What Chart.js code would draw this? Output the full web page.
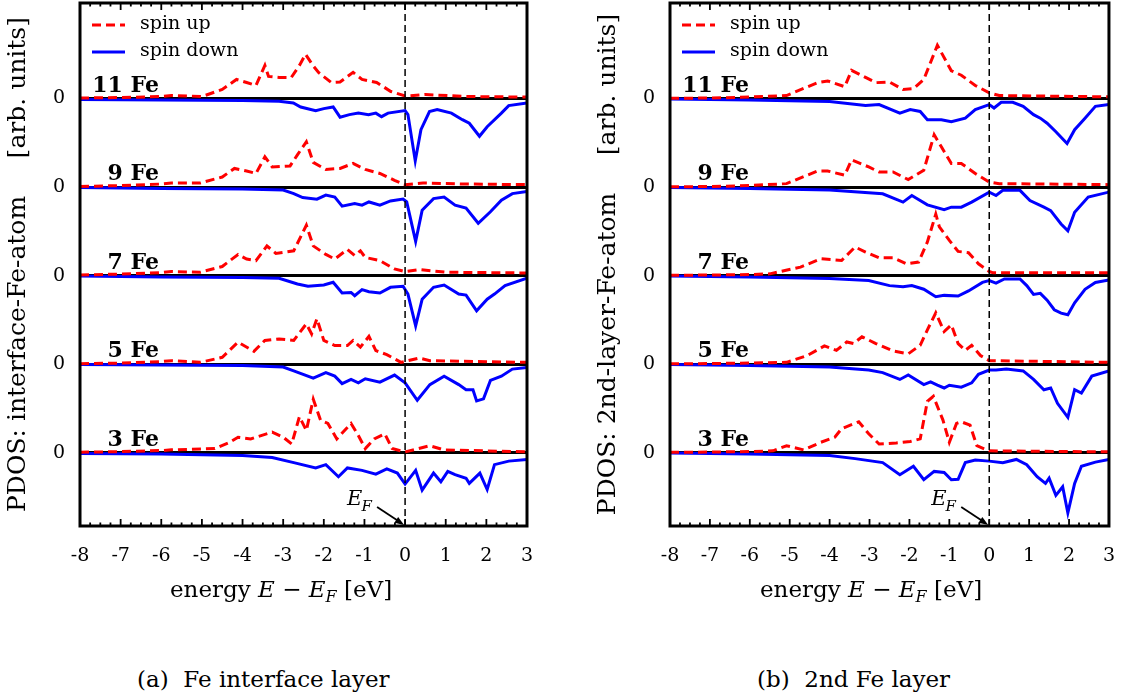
<!DOCTYPE html>
<html>
<head>
<meta charset="utf-8">
<script src="https://cdn.jsdelivr.net/npm/chart.js@4.4.1/dist/chart.umd.min.js"></script>
<style>
  body { margin: 0; background: #fff; width: 1126px; height: 696px; position: relative; overflow: hidden; }
  .panel { position: absolute; top: 0; height: 620px; }
  .caption { position: absolute; top: 664px; font: 23px "DejaVu Serif", serif; line-height: 30px; white-space: pre; color: #000; }
</style>
</head>
<body>
<div class="panel" style="left:0;width:563px"><canvas id="chartA" width="563" height="620"></canvas></div>
<div class="panel" style="left:590px;width:536px"><canvas id="chartB" width="536" height="620"></canvas></div>
<div class="caption" style="left:137px">(a)  Fe interface layer</div>
<div class="caption" style="left:757px">(b)  2nd Fe layer</div>
<script>
// systems stacked bottom to top, each shifted up by its offset
const systems = ["3 Fe", "5 Fe", "7 Fe", "9 Fe", "11 Fe"];
const offsets = [0, 88, 176, 264, 352];
const energyTicks = [-8, -7, -6, -5, -4, -3, -2, -1, 0, 1, 2, 3];

// (a) interface layer: [E - E_F (eV), PDOS]
const upA3 = [[-8,0.3],[-7,1],[-6,2],[-5.75,2.7],[-4.68,4],[-4.33,10],[-4.11,15.3],[-3.8,13.6],[-3.27,20.4],[-3.0,15.3],[-2.79,8.5],[-2.6,35.7],[-2.43,22],[-2.26,53],[-2.08,32],[-1.9,29],[-1.68,13.6],[-1.33,29],[-1.15,17],[-0.98,4],[-0.76,13.6],[-0.5,18.7],[-0.32,4],[0,0.7],[0.61,6.8],[0.96,2.7],[3,0.7]];
const downA3 = [[-8,-1],[-6,-1.5],[-4,-3],[-3.27,-5],[-2.74,-10],[-2.2,-15.3],[-1.95,-12],[-1.64,-24],[-1.42,-15.3],[-1.06,-17.7],[-0.72,-21.4],[-0.45,-16.3],[-0.19,-20.4],[0,-31.3],[0.26,-17.7],[0.42,-37.4],[0.7,-20.4],[0.88,-29],[1.05,-18.7],[1.23,-22],[1.5,-25.5],[1.58,-30.6],[1.84,-20.4],[2.02,-36.7],[2.2,-12],[2.55,-8.5],[3,-6.8]];
const upA5 = [[-8,0.3],[-7,1],[-6,2.5],[-5.75,3.4],[-5.04,1.7],[-4.5,6.7],[-4.11,21.8],[-3.72,12.7],[-3.45,23.5],[-3.1,25],[-2.74,23.5],[-2.43,40],[-2.3,30],[-2.17,45],[-2.0,23.5],[-1.73,18.4],[-1.42,18.4],[-1.28,23.5],[-1.1,16.8],[-0.89,27.5],[-0.72,13.4],[-0.45,9.4],[-0.1,1.7],[0.35,6],[0.61,3.4],[3,1.7]];
const downA5 = [[-8,-0.5],[-6,-1],[-4,-1.5],[-3,-3],[-2.74,-6.8],[-2.26,-14],[-1.95,-8.5],[-1.73,-12],[-1.55,-19.4],[-1.33,-15.3],[-1.15,-18.7],[-0.98,-14.6],[-0.62,-18],[-0.26,-10.9],[0,-18.7],[0.3,-36],[0.61,-20.4],[0.96,-12],[1.32,-20.4],[1.5,-25.5],[1.67,-25.5],[1.76,-36.7],[1.93,-34.6],[2.1,-16.3],[2.37,-12],[2.64,-5],[3,-3.4]];
const upA7 = [[-8,0.5],[-7,1.5],[-6,3],[-5.75,4],[-5.04,3.3],[-4.5,9],[-4.11,21],[-3.9,16.4],[-3.67,14.8],[-3.4,29.5],[-3.18,22],[-2.74,24.6],[-2.43,50],[-2.26,29.5],[-1.95,21],[-1.73,16.4],[-1.42,26],[-1.24,20],[-1.1,24.6],[-0.98,18],[-0.62,14.8],[-0.26,6.6],[0,4],[0.35,6],[1,3.3],[3,2.6]];
const downA7 = [[-8,-0.5],[-6,-1.5],[-4,-2],[-3.1,-2.7],[-2.65,-8.4],[-2.39,-10.7],[-2.0,-9.4],[-1.77,-6.7],[-1.55,-17.4],[-1.33,-16.8],[-1.24,-20],[-1.06,-14],[-0.89,-16],[-0.62,-17.4],[-0.36,-11.7],[-0.05,-10.7],[0.07,-18.4],[0.26,-50],[0.42,-23.5],[0.7,-11.7],[0.96,-9.4],[1.32,-18.4],[1.5,-19.4],[1.76,-35],[2.02,-23.5],[2.2,-18.4],[2.46,-10],[3,-2.7]];
const upA9 = [[-8,0.5],[-7,1.5],[-6,3],[-5.75,4],[-5.04,4],[-4.5,10],[-4.2,18.5],[-3.9,16],[-3.67,13.5],[-3.45,30],[-3.27,20],[-2.83,21],[-2.65,32],[-2.43,45],[-2.26,24.5],[-1.95,17.5],[-1.6,18.5],[-1.28,23.5],[-0.98,17.5],[-0.62,13.5],[-0.26,6.7],[0,2.4],[0.44,4],[1.5,3],[3,2.4]];
const downA9 = [[-8,-0.5],[-6,-1.5],[-4,-2],[-3,-3],[-2.74,-6.5],[-2.52,-10.5],[-2.17,-12],[-1.95,-8],[-1.73,-10],[-1.55,-19],[-1.24,-16.4],[-1.06,-18],[-0.89,-14.8],[-0.62,-18],[-0.36,-13.8],[-0.05,-12],[0.04,-14.8],[0.26,-54],[0.42,-23],[0.7,-11.5],[0.96,-10],[1.23,-18],[1.5,-21],[1.8,-36],[2.1,-24.6],[2.37,-13],[2.64,-6.5],[3,-4.3]];
const upA11 = [[-8,0.5],[-7,1],[-6,2],[-5.75,3],[-5.3,2.5],[-5.0,2],[-4.5,9],[-4.15,19],[-3.9,16],[-3.67,13],[-3.45,33],[-3.36,22],[-3.1,21],[-2.8,21],[-2.6,33],[-2.45,44],[-2.27,33],[-2.13,26],[-1.82,16],[-1.6,16.5],[-1.28,26],[-1.06,19],[-0.7,16],[-0.35,7],[0,2.5],[0.5,4],[1.5,2],[3,1.5]];
const downA11 = [[-8,-1],[-6,-1.5],[-4,-2],[-3.1,-2.7],[-2.75,-4.4],[-2.57,-8.4],[-2.2,-12],[-2.0,-10],[-1.77,-8.4],[-1.6,-18.5],[-1.37,-16],[-1.15,-14.5],[-0.9,-16],[-0.72,-14.5],[-0.58,-18],[-0.42,-14.5],[0,-12],[0.07,-16],[0.25,-62],[0.39,-31],[0.6,-13],[0.79,-11],[1.14,-14.5],[1.41,-21],[1.58,-24.6],[1.83,-37.5],[2.02,-28],[2.37,-14.5],[2.55,-7],[3,-4.4]];

// (b) 2nd layer
const upB3 = [[-8,0.3],[-7,0.5],[-6,1],[-5.42,1.7],[-5.08,6.8],[-4.65,2.7],[-4.22,10.2],[-3.87,15.3],[-3.7,23.8],[-3.27,30.6],[-3.02,18.7],[-2.76,8.5],[-2.33,9.5],[-1.98,11],[-1.73,13.6],[-1.55,51],[-1.4,56],[-1.16,32.3],[-1.0,10.2],[-0.82,29],[-0.7,30.6],[-0.48,27.2],[-0.31,6.8],[0,1.7],[3,0.7]];
const downB3 = [[-8,-0.5],[-6,-1.5],[-4,-3],[-3.36,-6],[-2.67,-10],[-2.24,-22],[-1.9,-13.6],[-1.64,-27],[-1.38,-18.7],[-1.13,-19.7],[-0.95,-27],[-0.78,-26.5],[-0.6,-10],[-0.35,-7.5],[0,-8.5],[0.34,-10],[0.68,-6.8],[0.94,-12],[1.2,-24],[1.41,-30.6],[1.5,-25.5],[1.67,-42.5],[1.84,-34],[1.97,-60],[2.14,-30.6],[2.31,-13.6],[2.66,-9.5],[3,-6.8]];
const upB5 = [[-8,0.3],[-7,0.5],[-6,1],[-5.08,1.7],[-4.56,8.5],[-4.13,18],[-3.83,13.6],[-3.57,22],[-3.4,20.4],[-3.19,27.2],[-2.84,20.4],[-2.41,13],[-2.03,10.2],[-1.73,18.7],[-1.55,34],[-1.34,51],[-1.13,32.3],[-0.95,39],[-0.78,20.4],[-0.6,13.6],[-0.44,18.7],[-0.22,8.5],[0,3.4],[3,1.7]];
const downB5 = [[-8,-0.5],[-6,-1.5],[-4,-3],[-3.02,-6],[-2.67,-8.5],[-2.24,-15.3],[-2.03,-10.9],[-1.64,-20.4],[-1.47,-17.7],[-1.3,-21],[-1.13,-23.8],[-1.0,-21],[-0.7,-23],[-0.44,-18.7],[-0.27,-10.2],[0,-6],[0.17,-6],[0.43,-5],[0.85,-6.8],[1.11,-15.3],[1.37,-25.5],[1.54,-23.8],[1.71,-39],[1.97,-53],[2.14,-25.5],[2.31,-28.9],[2.57,-12],[3,-6.8]];
const upB7 = [[-8,0.3],[-7,0.5],[-6,1],[-5.5,1.7],[-4.73,8.4],[-4.22,16.7],[-3.7,15],[-3.36,28.4],[-3.1,23.4],[-2.76,17.7],[-2.41,17.7],[-2.07,11.7],[-1.77,13.4],[-1.55,33.4],[-1.34,61],[-1.25,48.4],[-1.0,35],[-0.78,24],[-0.52,22.7],[-0.27,11.7],[0,4],[0.1,2.7],[3,2.7]];
const downB7 = [[-8,-0.5],[-6,-1.5],[-4,-3],[-3.02,-5],[-2.5,-10],[-2.16,-11],[-1.94,-10],[-1.64,-13.6],[-1.34,-21],[-1.13,-19.7],[-0.78,-20.4],[-0.52,-15.3],[-0.17,-6.8],[0,-5],[0.17,-7.5],[0.38,-3.4],[0.77,-3.4],[0.94,-10],[1.11,-18.7],[1.28,-17.7],[1.45,-24.5],[1.63,-34],[1.8,-37.4],[1.97,-39],[2.14,-27],[2.4,-13.6],[2.66,-6.8],[3,-4.4]];
const upB9 = [[-8,0.3],[-7,0.5],[-6,1.5],[-5.08,3.4],[-4.3,16],[-4.05,16],[-3.62,11.8],[-3.45,27],[-3.02,20],[-2.76,15],[-2.41,15],[-2.03,7.4],[-1.64,16.8],[-1.38,52],[-1.2,40],[-0.95,23.5],[-0.7,23.5],[-0.35,13.5],[0,5],[0.25,3.4],[3,2.4]];
const downB9 = [[-8,-0.5],[-6,-1.5],[-4,-3],[-2.67,-6.7],[-2.16,-15],[-1.94,-8.4],[-1.55,-17.7],[-1.13,-22.4],[-0.95,-20],[-0.7,-20],[-0.44,-15],[0,-5],[0.17,-8.4],[0.34,-3.3],[0.77,-3.3],[1.02,-13.4],[1.37,-20],[1.54,-23.4],[1.8,-36.7],[1.97,-43.4],[2.14,-25],[2.48,-10],[3,-5]];
const upB11 = [[-8,0.3],[-7,0.5],[-6,1.5],[-5.08,3],[-4.3,15.8],[-4.05,17.5],[-3.62,11.8],[-3.45,28],[-3.1,21],[-2.84,15.8],[-2.5,16.5],[-2.16,9],[-1.9,9.8],[-1.64,19],[-1.3,53],[-0.95,27.6],[-0.7,23.2],[-0.35,13],[0,5.7],[0.25,3],[3,1.7]];
const downB11 = [[-8,-0.5],[-6,-1.5],[-4,-3],[-3.1,-7],[-2.76,-6],[-2.24,-14.5],[-1.98,-11],[-1.73,-12.8],[-1.55,-21],[-1.2,-21],[-0.95,-23],[-0.6,-19.5],[-0.35,-11],[0,-6],[0.12,-9.4],[0.3,-3.7],[0.59,-3.7],[0.85,-7.7],[1.11,-16],[1.28,-19.5],[1.45,-24.5],[1.67,-33],[1.95,-44.7],[2.14,-31],[2.4,-19.5],[2.66,-7.7],[3,-6]];

const SERIF = '"DejaVu Serif", serif';
Chart.defaults.color = "#000";
Chart.defaults.font.family = SERIF;

// frame, inward ticks, E_F line, legend and labels
const decorPlugin = {
  id: "decor",
  afterDatasetsDraw(chart) {
    const ctx = chart.ctx;
    const a = chart.chartArea;
    const xs = chart.scales.x;
    const ys = chart.scales.y;
    ctx.save();

    // ticks on bottom and top borders
    ctx.strokeStyle = "#000";
    ctx.lineWidth = 1.8;
    for (let e = -8; e <= 3.001; e += 0.25) {
      const px = xs.getPixelForValue(e);
      const len = Math.abs(e - Math.round(e)) < 0.01 ? 7 : 3.5;
      ctx.beginPath();
      ctx.moveTo(px, a.bottom); ctx.lineTo(px, a.bottom - len);
      ctx.moveTo(px, a.top); ctx.lineTo(px, a.top + len);
      ctx.stroke();
    }

    // Fermi level
    const x0 = xs.getPixelForValue(0);
    ctx.lineWidth = 1.5;
    ctx.setLineDash([7, 4]);
    ctx.beginPath();
    ctx.moveTo(x0, a.top); ctx.lineTo(x0, a.bottom);
    ctx.stroke();
    ctx.setLineDash([]);

    // frame
    ctx.lineWidth = 3;
    ctx.strokeRect(a.left, a.top, a.right - a.left, a.bottom - a.top);

    // legend
    ctx.lineWidth = 3;
    ctx.strokeStyle = "#ff0000";
    ctx.setLineDash([9, 5]);
    ctx.beginPath();
    ctx.moveTo(a.left + 12, a.top + 22); ctx.lineTo(a.left + 45, a.top + 22);
    ctx.stroke();
    ctx.setLineDash([]);
    ctx.strokeStyle = "#0000ff";
    ctx.beginPath();
    ctx.moveTo(a.left + 12, a.top + 49); ctx.lineTo(a.left + 45, a.top + 49);
    ctx.stroke();
    ctx.fillStyle = "#000";
    ctx.font = "19px " + SERIF;
    ctx.textBaseline = "middle";
    ctx.textAlign = "left";
    ctx.fillText("spin up", a.left + 60, a.top + 21);
    ctx.fillText("spin down", a.left + 60, a.top + 48);

    // system labels
    ctx.font = "bold 22px " + SERIF;
    ctx.textBaseline = "alphabetic";
    ctx.textAlign = "right";
    systems.forEach((name, i) => {
      ctx.fillText(name, a.left + 79, ys.getPixelForValue(offsets[i]) - 7);
    });

    // E_F marker
    ctx.textAlign = "left";
    ctx.font = "italic 21px " + SERIF;
    const ex = x0 - 58;
    ctx.fillText("E", ex, a.bottom - 21);
    const ew = ctx.measureText("E").width;
    ctx.font = "italic 15px " + SERIF;
    ctx.fillText("F", ex + ew - 1, a.bottom - 15);
    ctx.lineWidth = 1.8;
    ctx.strokeStyle = "#000";
    const ax1 = x0 - 28, ay1 = a.bottom - 19, ax2 = x0 - 1, ay2 = a.bottom - 1;
    ctx.beginPath();
    ctx.moveTo(ax1, ay1); ctx.lineTo(ax2 - 5, ay2 - 3.5);
    ctx.stroke();
    const ang = Math.atan2(ay2 - ay1, ax2 - ax1);
    ctx.beginPath();
    ctx.moveTo(ax2, ay2);
    ctx.lineTo(ax2 - 10 * Math.cos(ang - 0.35), ay2 - 10 * Math.sin(ang - 0.35));
    ctx.lineTo(ax2 - 10 * Math.cos(ang + 0.35), ay2 - 10 * Math.sin(ang + 0.35));
    ctx.closePath();
    ctx.fill();

    // x axis title: energy E - E_F [eV]
    const parts = [
      ["energy ", "23px " + SERIF, 0],
      ["E", "italic 23px " + SERIF, 0],
      [" \u2212 ", "23px " + SERIF, 0],
      ["E", "italic 23px " + SERIF, 0],
      ["F", "italic 16px " + SERIF, 5],
      [" [eV]", "23px " + SERIF, 0],
    ];
    let tx = a.left + 90;
    const ty = a.bottom + 71;
    parts.forEach(([t, f, dy]) => {
      ctx.font = f;
      ctx.fillText(t, tx, ty + dy);
      tx += ctx.measureText(t).width;
    });

    ctx.restore();
  },
};

function makeChart(id, ups, downs, yTitle, padRight) {
  const datasets = [];
  systems.forEach((name, i) => {
    datasets.push({
      label: "spin up " + name,
      data: ups[i].map(([e, v]) => ({ x: e, y: v + offsets[i] })),
      borderColor: "#ff0000",
      borderWidth: 3,
      borderDash: [9, 5],
      pointRadius: 0,
      tension: 0,
    });
    datasets.push({
      label: "spin down " + name,
      data: downs[i].map(([e, v]) => ({ x: e, y: v + offsets[i] })),
      borderColor: "#0000ff",
      borderWidth: 3,
      pointRadius: 0,
      tension: 0,
    });
  });

  return new Chart(document.getElementById(id), {
    type: "line",
    data: { datasets: datasets },
    options: {
      responsive: false,
      animation: false,
      layout: { padding: { top: 3, right: padRight, bottom: 0, left: 0 } },
      plugins: { legend: { display: false }, tooltip: { enabled: false } },
      scales: {
        x: {
          type: "linear",
          min: -8,
          max: 3,
          afterBuildTicks: (s) => { s.ticks = energyTicks.map((v) => ({ value: v })); },
          afterFit: (s) => { s.height = 94; },
          ticks: { font: { size: 19 }, padding: 11, maxRotation: 0, autoSkip: false },
          grid: { display: false },
          border: { display: false },
        },
        y: {
          min: -73,
          max: 447,
          afterBuildTicks: (s) => { s.ticks = offsets.map((v) => ({ value: v })); },
          afterFit: (s) => { s.width = 80; s.paddingTop = 0; s.paddingBottom = 0; },
          ticks: { font: { size: 19 }, padding: 15, callback: () => "0", autoSkip: false },
          grid: { color: "#000", lineWidth: 3, drawTicks: false },
          border: { display: false },
          title: {
            display: true,
            text: yTitle,
            font: { size: 25 },
            padding: { top: 3, bottom: 0 },
          },
        },
      },
    },
    plugins: [decorPlugin],
  });
}

makeChart("chartA",
  [upA3, upA5, upA7, upA9, upA11],
  [downA3, downA5, downA7, downA9, downA11],
  "PDOS: interface-Fe-atom\u2003\u2002[arb. units]", 36);
makeChart("chartB",
  [upB3, upB5, upB7, upB9, upB11],
  [downB3, downB5, downB7, downB9, downB11],
  "PDOS: 2nd-layer-Fe-atom\u2003\u2002[arb. units]", 9);
</script>
</body>
</html>
